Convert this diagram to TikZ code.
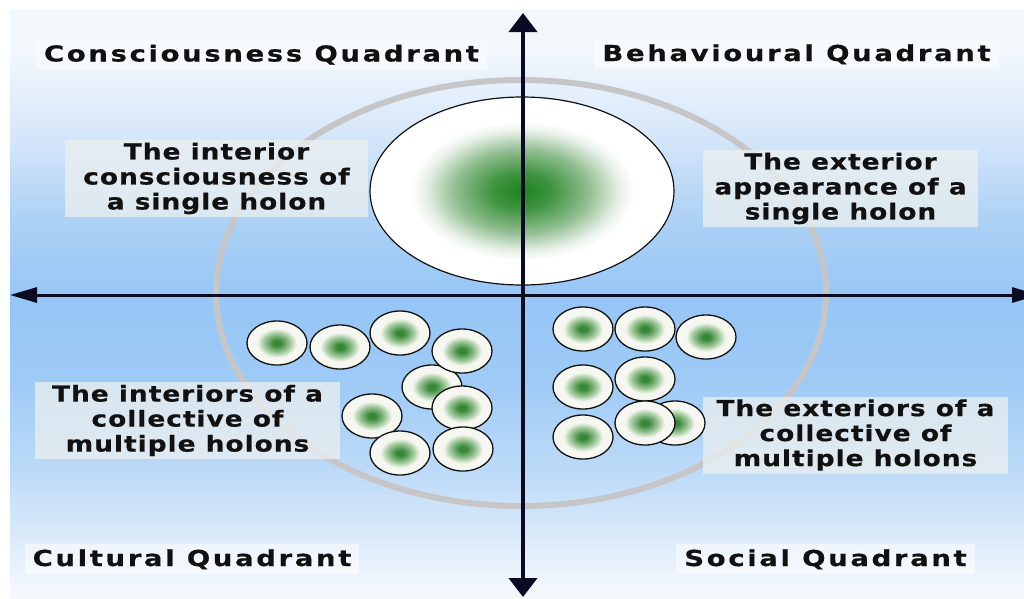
\documentclass[tikz,border=0pt]{standalone}
\usepackage{fontspec}
\setmainfont{DejaVu Sans}
\newfontfamily\quadfont[LetterSpace=12, FakeStretch=1.25, FakeBold=0.6]{DejaVu Sans}
\newfontfamily\holonfont[LetterSpace=4.5, FakeStretch=1.2, FakeBold=0.6]{DejaVu Sans}
\usetikzlibrary{arrows.meta,shapes.geometric}

\definecolor{inkc}{RGB}{17,17,17}
\definecolor{axisc}{RGB}{10,10,35}
\definecolor{ringc}{RGB}{198,198,200}
\definecolor{boxc}{RGB}{236,240,239}
\definecolor{skyA}{RGB}{245,249,253}
\definecolor{skyB}{RGB}{230,240,251}
\definecolor{skyC}{RGB}{188,218,247}
\definecolor{skyD}{RGB}{158,202,246}
\definecolor{skyE}{RGB}{150,198,246}
\definecolor{skyF}{RGB}{172,209,245}
\definecolor{skyG}{RGB}{216,232,250}
\definecolor{skyH}{RGB}{242,247,252}
\definecolor{greenA}{RGB}{30,130,30}
\definecolor{greenB}{RGB}{65,148,65}
\definecolor{greenC}{RGB}{145,190,145}
\definecolor{greenD}{RGB}{232,241,232}
\definecolor{smallA}{RGB}{55,135,55}
\definecolor{smallB}{RGB}{160,200,155}
\definecolor{smallC}{RGB}{246,247,240}

\pgfdeclareverticalshading{skyband}{100bp}{color(0bp)=(skyA); color(25bp)=(skyA);
  color(28.2bp)=(skyB); color(35.9bp)=(skyC); color(43.5bp)=(skyD); color(50.3bp)=(skyE);
  color(57.1bp)=(skyF); color(64.8bp)=(skyG); color(71.6bp)=(skyH); color(100bp)=(skyH)}
\pgfdeclareradialshading{bigholonshade}{\pgfpoint{0bp}{0bp}}{color(0bp)=(greenA);
  color(5bp)=(greenB); color(11bp)=(greenC); color(16bp)=(greenD); color(18.5bp)=(white);
  color(50bp)=(white)}
\pgfdeclareradialshading{smallholonshade}{\pgfpoint{0bp}{0bp}}{color(0bp)=(smallA);
  color(3bp)=(smallA); color(11bp)=(smallB); color(16.5bp)=(smallC); color(50bp)=(smallC)}

\tikzset{
  quadtitle/.style={font=\quadfont\bfseries\fontsize{22}{26}\selectfont, text=inkc,
    fill=white, fill opacity=0.5, text opacity=1, inner xsep=8pt, inner ysep=5pt, anchor=base},
  holonlabel/.style={font=\holonfont\bfseries\fontsize{22}{25}\selectfont, align=center,
    text=inkc, fill=boxc, fill opacity=0.75, text opacity=1, minimum height=77pt, inner sep=0pt},
  holon/.style={ellipse, draw=inkc, line width=1.3pt, shading=smallholonshade,
    minimum width=60pt, minimum height=44pt, inner sep=0pt},
  bigholon/.style={ellipse, draw=inkc, line width=1.2pt, shading=bigholonshade,
    minimum width=304pt, minimum height=188pt, inner sep=0pt},
  vaxis/.style={draw=axisc, line width=4pt,
    arrows={Triangle[width=28pt,length=19pt]-Triangle[width=28pt,length=19pt]}},
  haxis/.style={draw=axisc, line width=3pt,
    arrows={Triangle[width=15pt,length=27pt]-Triangle[width=15pt,length=27pt]}}
}

\begin{document}
\begin{tikzpicture}[x=1pt, y=-1pt]
\useasboundingbox (0,0) rectangle (1024,598);
\fill[white] (0,0) rectangle (1024,598);
\shade[shading=skyband] (10,10) rectangle (1024,598);
\draw[ringc, line width=6pt] (521,293) ellipse [x radius=305pt, y radius=213pt];

\node[quadtitle] (conscious) at (261.5,61.5) {Consciousness Quadrant};
\node[quadtitle] (behaviour) at (796.5,61) {Behavioural Quadrant};
\node[quadtitle] (cultural) at (192,566) {Cultural Quadrant};
\node[quadtitle] (social) at (825.5,566) {Social Quadrant};

\node[holonlabel, minimum width=303pt] (intsingle) at (216.5,178.5) {The interior\\consciousness of\\a single holon};
\node[holonlabel, minimum width=275pt] (extsingle) at (840.5,188.5) {The exterior\\appearance of a\\single holon};
\node[holonlabel, minimum width=305pt] (intmulti) at (187.5,420.5) {The interiors of a\\collective of\\multiple holons};
\node[holonlabel, minimum width=305pt] (extmulti) at (855.5,435) {The exteriors of a\\collective of\\multiple holons};

\node[bigholon] (single) at (522,191) {};
\foreach \x/\y [count=\i] in {277/343, 340/347, 400/333, 432/387, 462/351, 462/408, 372/416, 400/453, 463/449}
  \node[holon] (inner\i) at (\x,\y) {};
\foreach \x/\y [count=\i] in {583/329, 645/329, 706/337, 583/387, 645/379, 583/437, 675/423, 645/423}
  \node[holon] (outer\i) at (\x,\y) {};

\coordinate (north) at (523,13);
\coordinate (south) at (523,597);
\coordinate (west) at (10,295);
\coordinate (east) at (1039,295);
\draw[vaxis] (south) -- (north);
\draw[haxis] (west) -- (east);
\end{tikzpicture}
\end{document}
